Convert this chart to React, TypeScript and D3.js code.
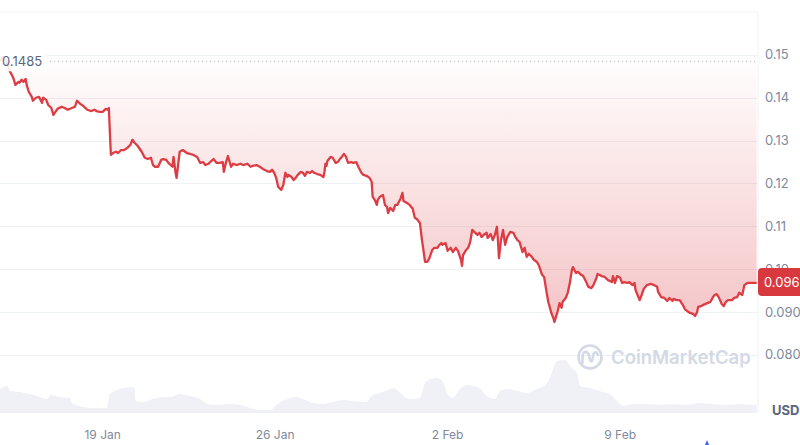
import React from "react";
import * as d3 from "d3";

const HOUR = 3600 * 1000;
const startTime = Date.UTC(2025, 0, 14, 20);
const endTime = startTime + 738.3 * HOUR;

const priceHours = [
  0, 3, 6, 9, 13, 15, 18, 19, 21, 23, 25, 26, 28, 31, 32, 35, 38, 41, 42, 45, 47, 50, 52, 54, 56, 60, 63, 66, 70, 73, 75, 78, 81, 85, 89, 92, 94, 97, 100, 103, 105, 106,
  108, 110, 113, 115, 118, 121, 124, 127, 129, 131, 134, 138, 141, 144, 147, 149, 151, 154, 157, 159, 162, 164, 168, 169, 171, 172, 175, 178, 182, 185,
  188, 192, 195, 198, 200, 203, 206, 208, 211, 214, 217, 218, 220, 222, 225, 227, 231, 234, 237, 241, 244, 246, 250, 253, 256, 260, 263, 265, 267, 269, 271, 274, 276, 278, 280, 281, 284, 286, 288, 290, 293, 295, 297, 299, 302, 304, 306, 309, 312, 315, 316, 317, 318, 319, 322, 324, 327, 329, 331, 333, 335, 337, 339, 342, 344, 347, 349, 352, 354, 357, 360, 362, 363, 365, 367, 368, 370,
  373, 375, 377, 378, 380, 383, 385, 387, 390, 392, 393, 396, 399, 402, 404, 406, 409, 411, 412, 414, 416, 418, 421, 423, 426, 428, 430, 431, 434, 436, 439, 441, 444, 446, 449, 450, 451, 454, 456, 458, 460, 462, 465, 467, 469, 471, 474, 475, 478, 480, 482, 484, 485, 486, 488, 490, 492, 494, 497, 500, 502, 504, 506, 509, 511, 513, 515, 518, 520, 523, 525, 528, 530, 532, 534, 537, 539, 540, 542, 543, 545, 547, 548, 551, 553, 555,
  557, 558, 561, 563, 566, 568, 571, 573, 576, 578, 581, 582, 586, 589, 592, 596, 597, 599, 601, 604, 606, 608, 611, 613, 616, 618, 619, 621, 623, 625, 627, 630, 634, 637, 640, 641, 644, 647, 650, 652, 655, 656, 659, 662, 665, 667, 669, 672, 675, 677, 679, 680, 683, 685, 689, 692, 694, 696, 698, 700, 703, 705, 707, 709, 713, 715, 718, 720, 723, 725, 728, 730, 733, 737,
];

const priceValues = [
  0.1485, 0.1495, 0.1486, 0.1465, 0.1446, 0.143, 0.1437, 0.1435, 0.1442, 0.1437, 0.1444, 0.143, 0.1414, 0.1402, 0.1393, 0.14, 0.1402, 0.1388, 0.14, 0.1395, 0.1383, 0.1376, 0.136, 0.1367, 0.1374, 0.1379, 0.1376, 0.1372, 0.1376, 0.1379, 0.1393, 0.1386, 0.1381, 0.1372, 0.1369, 0.1372, 0.1369, 0.1367, 0.1367, 0.1374, 0.1372, 0.1376,
  0.1267, 0.1271, 0.1274, 0.1271, 0.1278, 0.1278, 0.1283, 0.129, 0.1302, 0.1295, 0.1288, 0.1274, 0.126, 0.1257, 0.126, 0.1243, 0.1239, 0.1239, 0.1255, 0.1257, 0.1255, 0.1248, 0.1239, 0.1262, 0.1225, 0.1213, 0.1274, 0.1278, 0.1271, 0.1269,
  0.1267, 0.1262, 0.1248, 0.125, 0.1243, 0.1246, 0.1253, 0.1257, 0.1248, 0.1248, 0.125, 0.1227, 0.1248, 0.1264, 0.1239, 0.1246, 0.1243, 0.1246, 0.1243, 0.1246, 0.1239, 0.1241, 0.1243, 0.1239, 0.1234, 0.1229, 0.1227, 0.1232, 0.1225, 0.1213, 0.1192, 0.1185, 0.1197, 0.1225, 0.1215, 0.122, 0.1215, 0.1208, 0.1213, 0.122, 0.1227, 0.1225, 0.1218, 0.1227, 0.1225, 0.1229, 0.1225, 0.1222, 0.122, 0.1215, 0.1227, 0.1246, 0.1241, 0.1253, 0.1262, 0.126, 0.1248, 0.125, 0.1257, 0.1262, 0.1269, 0.1262, 0.1248, 0.125, 0.1248, 0.125, 0.1239, 0.1225, 0.122, 0.1218, 0.1213, 0.1204, 0.1169, 0.1162, 0.115, 0.1162, 0.1169,
  0.1173, 0.115, 0.1145, 0.1131, 0.1143, 0.1136, 0.115, 0.115, 0.1164, 0.1178, 0.1159, 0.1155, 0.115, 0.1141, 0.112, 0.1117, 0.1108, 0.1068, 0.1052, 0.1017, 0.1017, 0.1024, 0.1045, 0.105, 0.105, 0.1057, 0.1061, 0.1057, 0.1061, 0.1043, 0.105, 0.104, 0.105, 0.1043, 0.1022, 0.1008, 0.1033, 0.1045, 0.105, 0.1064, 0.1092, 0.1087, 0.108, 0.1085, 0.1075, 0.108, 0.1085, 0.1073, 0.1082, 0.1068, 0.108, 0.1099, 0.1068, 0.1026, 0.1068, 0.1092, 0.1057, 0.1075, 0.1087, 0.1085, 0.1075, 0.1068, 0.1064, 0.104, 0.105, 0.1029, 0.1036, 0.1029, 0.1022, 0.1017, 0.1008, 0.0987, 0.0982, 0.0952, 0.0924, 0.0898, 0.0886, 0.0877, 0.0893, 0.09, 0.0921, 0.091, 0.0924, 0.0933, 0.0945, 0.0968,
  0.0998, 0.1005, 0.0991, 0.0994, 0.0987, 0.0984, 0.097, 0.0959, 0.0956, 0.0963, 0.098, 0.0989, 0.0984, 0.0982, 0.0975, 0.097, 0.0984, 0.0968, 0.0984, 0.098, 0.0968, 0.097, 0.0968, 0.097, 0.0963, 0.0968, 0.0952, 0.094, 0.0928, 0.094, 0.0954, 0.0963, 0.0966, 0.0963, 0.0959, 0.0947, 0.0935, 0.0933, 0.0926, 0.0933, 0.0926, 0.0931, 0.0928, 0.0928, 0.0917, 0.0907, 0.0903, 0.0898, 0.0896, 0.0891, 0.09, 0.0912, 0.0914, 0.0917, 0.0921, 0.0924, 0.0933, 0.094, 0.0942, 0.0935, 0.0919, 0.0914, 0.0924, 0.0928, 0.0928, 0.0933, 0.0935, 0.0945, 0.094, 0.0963, 0.0968, 0.0968, 0.0968, 0.0968,
];

const volumeHours = [
  0, 7, 10, 19, 29, 39, 46, 49, 58, 68, 71, 78, 88, 97, 104, 107, 114, 120, 129, 131, 132, 139, 149, 159, 166, 175, 185, 195, 202, 211, 224, 234, 244, 253, 263, 270, 280, 289, 295, 305, 315, 324, 334, 344, 357, 362,
  370, 377, 383, 390, 396, 402, 409, 414, 419, 426, 431, 436, 441, 448, 455, 461, 468, 474, 482, 487, 494, 504, 513, 523, 533, 538, 543, 550, 557, 562, 565, 575, 584, 594, 601, 607, 617, 630, 643, 656, 669, 682, 694, 708, 721, 733, 737,
];

const volumeValues = [
  24, 27, 22, 21, 19, 16, 14, 18, 16, 15, 9, 7, 5, 5, 5, 19, 23, 25, 26, 26, 12, 11, 14, 16, 16, 19, 17, 14, 9, 8, 9, 8, 5, 3, 3, 9, 14, 16, 14, 10, 9, 11, 13, 12, 11, 17,
  20, 23, 25, 20, 15, 14, 15, 30, 34, 35, 32, 19, 15, 24, 28, 27, 24, 17, 14, 22, 24, 22, 20, 24, 30, 42, 52, 53, 45, 40, 27, 25, 22, 19, 12, 7, 9, 9, 8, 9, 8, 10, 9, 8, 9, 8, 9,
];

const yTickValues = [0.15, 0.14, 0.13, 0.12, 0.11, 0.1, 0.09, 0.08];
const yTickLabels = ["0.15", "0.14", "0.13", "0.12", "0.11", "0.10", "0.090", "0.080"];
const xTickDates = [Date.UTC(2025, 0, 19), Date.UTC(2025, 0, 26), Date.UTC(2025, 1, 2), Date.UTC(2025, 1, 9)];
const baselinePrice = 0.1485;
const baselineLabel = "0.1485";
const currentPriceLabel = "0.096";
const currencyLabel = "USD";
const watermarkText = "CoinMarketCap";

const W = 800;
const H = 445;
const PLOT_LEFT = 0;
const PLOT_RIGHT = 758;
const PLOT_TOP = 12;
const PLOT_BOTTOM = 413;

const RED = "#dc3d44";
const FONT = "Inter, 'Noto Sans', sans-serif";

export default function App() {
  const x = d3.scaleUtc().domain([new Date(startTime), new Date(endTime)]).range([PLOT_LEFT, PLOT_RIGHT]);
  const y = d3.scaleLinear().domain([0.0667, 0.16]).range([412, PLOT_TOP]);
  const yVol = d3.scaleLinear().domain([0, 60]).range([PLOT_BOTTOM, PLOT_BOTTOM - 60]);

  const prices = priceHours.map((h, i) => ({ t: new Date(startTime + h * HOUR), v: priceValues[i] }));
  const vols = volumeHours.map((h, i) => ({ t: new Date(startTime + h * HOUR), v: volumeValues[i] }));

  const line = d3
    .line<{ t: Date; v: number }>()
    .x((d) => x(d.t))
    .y((d) => y(d.v));
  const area = d3
    .area<{ t: Date; v: number }>()
    .x((d) => x(d.t))
    .y0(() => y(baselinePrice))
    .y1((d) => y(d.v));
  const volArea = d3
    .area<{ t: Date; v: number }>()
    .x((d) => x(d.t))
    .y0(PLOT_BOTTOM)
    .y1((d) => yVol(d.v))
    .curve(d3.curveMonotoneX);

  const fmt = d3.utcFormat("%-d %b");
  const baseY = y(baselinePrice);
  const lastY = y(priceValues[priceValues.length - 1]);

  return (
    <svg
      width={W}
      height={H}
      style={{ position: "absolute", left: 0, top: 0, background: "#fff", fontFamily: FONT }}
    >
      <defs>
        <linearGradient id="redFill" gradientUnits="userSpaceOnUse" x1="0" y1={baseY} x2="0" y2={y(0.0877)}>
          <stop offset="0" stopColor={RED} stopOpacity={0.01} />
          <stop offset="1" stopColor={RED} stopOpacity={0.3} />
        </linearGradient>
        <clipPath id="plotClip">
          <rect x={PLOT_LEFT} y={PLOT_TOP} width={PLOT_RIGHT - PLOT_LEFT} height={PLOT_BOTTOM - PLOT_TOP} />
        </clipPath>
      </defs>

      {/* frame */}
      <line x1={PLOT_LEFT} x2={PLOT_RIGHT} y1={PLOT_TOP} y2={PLOT_TOP} stroke="#eff2f5" />
      <line x1={PLOT_RIGHT} x2={PLOT_RIGHT} y1={PLOT_TOP} y2={PLOT_BOTTOM} stroke="#eff2f5" />

      {/* grid */}
      {yTickValues.map((v) => (
        <line key={v} x1={PLOT_LEFT} x2={PLOT_RIGHT} y1={Math.round(y(v)) + 0.5} y2={Math.round(y(v)) + 0.5} stroke="#eff2f5" />
      ))}

      {/* volume */}
      <path d={volArea(vols) || ""} fill="#eff1f6" clipPath="url(#plotClip)" />

      {/* watermark */}
      <g>
        <circle cx={590} cy={357} r={11.5} fill="none" stroke="#d3d9e5" strokeWidth={2.6} />
        <path
          d="M582.5,363 L582.5,357 Q583,351 586.5,352 Q589,353 589.5,358 Q590,362 592,361 L593.5,354 Q596,350 598,355"
          fill="none"
          stroke="#d3d9e5"
          strokeWidth={2.6}
          strokeLinecap="round"
          strokeLinejoin="round"
        />
        <text x={611} y={364} fontSize={18.5} fontWeight={600} fill="#d3d9e5">
          {watermarkText}
        </text>
      </g>

      {/* price area & line */}
      <path d={area(prices) || ""} fill="url(#redFill)" clipPath="url(#plotClip)" />
      <path d={line(prices) || ""} fill="none" stroke={RED} strokeWidth={2.3} strokeLinejoin="round" clipPath="url(#plotClip)" />

      {/* baseline dotted line and label */}
      <line x1={50} x2={PLOT_RIGHT - 3} y1={baseY} y2={baseY} stroke="#a6b0c3" strokeWidth={1} strokeDasharray="1 3" />
      <rect x={0} y={baseY - 9} width={47} height={19} fill="#ffffff" opacity={0.88} />
      <text x={2} y={baseY + 4.5} fontSize={13} fill="#58667e">
        {baselineLabel}
      </text>

      {/* y labels */}
      {yTickValues.map((v, i) => (
        <text key={v} x={765} y={y(v) + 4.5} fontSize={13} fill="#808a9d">
          {yTickLabels[i]}
        </text>
      ))}

      {/* current price tag */}
      <rect x={PLOT_RIGHT} y={lastY - 15} width={50} height={28} rx={4} fill="#d8393f" />
      <text x={764} y={lastY + 4.5} fontSize={13} fill="#ffffff">
        {currentPriceLabel}
      </text>

      {/* x labels */}
      {xTickDates.map((d) => (
        <text key={d} x={x(new Date(d))} y={439} fontSize={12} fill="#808a9d" textAnchor="middle">
          {fmt(new Date(d))}
        </text>
      ))}

      <text x={772} y={415} fontSize={13} fontWeight={700} fill="#58667e">
        {currencyLabel}
      </text>

      <path d="M705,445 L707,440 L709,445 Z" fill="#3861fb" />
    </svg>
  );
}
